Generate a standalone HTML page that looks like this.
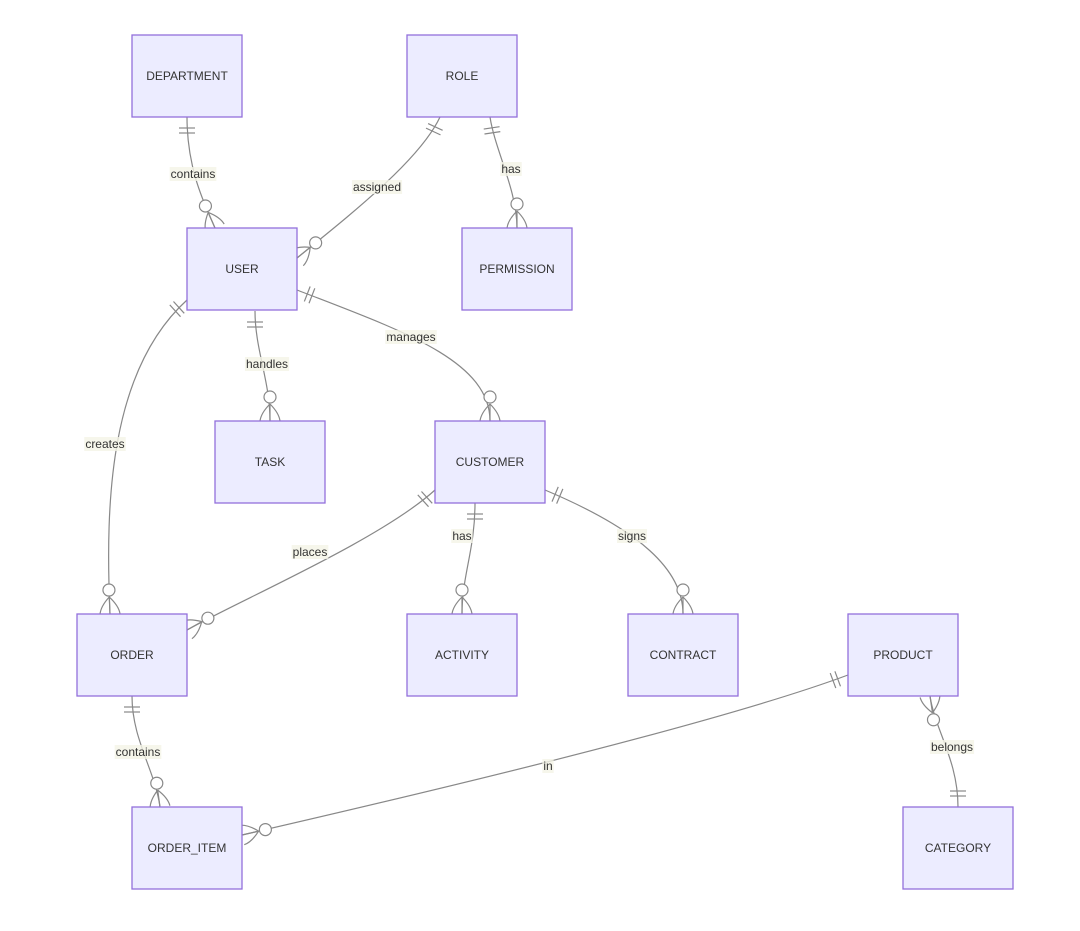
<!DOCTYPE html>
<html><head><meta charset="utf-8"><style>
html,body{margin:0;padding:0;background:#fff;}
svg{display:block;font-family:"Liberation Sans","DejaVu Sans",sans-serif;}
.e{fill:#ECECFF;stroke:#9370DB;stroke-width:1.3;}
.t{font-size:12px;fill:#333;text-anchor:middle;dominant-baseline:central;}
.l{font-size:12px;fill:#333;text-anchor:middle;dominant-baseline:central;}
.ln{fill:none;stroke:#888;stroke-width:1.2;}
</style></head><body>
<svg id="s" width="1080" height="931" viewBox="0 0 1080 931" xmlns="http://www.w3.org/2000/svg">
<g id="edges"></g>
<g id="lbg"></g>
<g>
<text class="l" x="193" y="174">contains</text>
<text class="l" x="377" y="187">assigned</text>
<text class="l" x="511" y="169">has</text>
<text class="l" x="267" y="364">handles</text>
<text class="l" x="411" y="337">manages</text>
<text class="l" x="105" y="444">creates</text>
<text class="l" x="310" y="552">places</text>
<text class="l" x="462" y="536">has</text>
<text class="l" x="632" y="536">signs</text>
<text class="l" x="138" y="752">contains</text>
<text class="l" x="548" y="766">in</text>
<text class="l" x="952" y="747">belongs</text>
</g>
<g>
<rect class="e" x="132" y="35" width="110" height="82"/><text class="t" x="187" y="76">DEPARTMENT</text>
<rect class="e" x="407" y="35" width="110" height="82"/><text class="t" x="462" y="76">ROLE</text>
<rect class="e" x="187" y="228" width="110" height="82"/><text class="t" x="242" y="269">USER</text>
<rect class="e" x="462" y="228" width="110" height="82"/><text class="t" x="517" y="269">PERMISSION</text>
<rect class="e" x="215" y="421" width="110" height="82"/><text class="t" x="270" y="462">TASK</text>
<rect class="e" x="435" y="421" width="110" height="82"/><text class="t" x="490" y="462">CUSTOMER</text>
<rect class="e" x="77" y="614" width="110" height="82"/><text class="t" x="132" y="655">ORDER</text>
<rect class="e" x="407" y="614" width="110" height="82"/><text class="t" x="462" y="655">ACTIVITY</text>
<rect class="e" x="628" y="614" width="110" height="82"/><text class="t" x="683" y="655">CONTRACT</text>
<rect class="e" x="848" y="614" width="110" height="82"/><text class="t" x="903" y="655">PRODUCT</text>
<rect class="e" x="132" y="807" width="110" height="82"/><text class="t" x="187" y="848">ORDER_ITEM</text>
<rect class="e" x="903" y="807" width="110" height="82"/><text class="t" x="958" y="848">CATEGORY</text>
</g>
</svg>
<script>
var E=[
[[187,117],[187,170],[205,205],[215,228]],
[[440,117],[420,160],[350,215],[297,258]],
[[490,117],[495,150],[517,190],[517,228]],
[[255,311],[255,350],[270,380],[270,421]],
[[297,290],[400,330],[490,360],[490,421]],
[[187,300],[110,370],[105,500],[110,614]],
[[435,490],[380,540],[240,600],[187,630]],
[[475,503],[475,550],[462,575],[462,614]],
[[545,490],[640,530],[683,570],[683,614]],
[[132,696],[132,740],[155,770],[160,807]],
[[848,675],[700,730],[350,810],[242,835]],
[[958,807],[958,760],[935,730],[930,696]]];
var g=document.getElementById('edges'),h='';
function u(a,b){var dx=b[0]-a[0],dy=b[1]-a[1],l=Math.hypot(dx,dy);return [dx/l,dy/l];}
E.forEach(function(e){
 var p0=e[0],c1=e[1],c2=e[2],p3=e[3];
 h+='<path class="ln" d="M'+p0+' C'+c1+' '+c2+' '+p3+'"/>';
 // one end at p0
 var d=u(p0,c1),n=[-d[1],d[0]];
 [11,16].forEach(function(k){var cx=p0[0]+d[0]*k,cy=p0[1]+d[1]*k;
  h+='<line class="ln" x1="'+(cx+n[0]*8)+'" y1="'+(cy+n[1]*8)+'" x2="'+(cx-n[0]*8)+'" y2="'+(cy-n[1]*8)+'"/>';});
 // many end at p3
 var d2=u(p3,c2),n2=[-d2[1],d2[0]];
 var cx=p3[0]+d2[0]*24,cy=p3[1]+d2[1]*24;
 h+='<circle cx="'+cx+'" cy="'+cy+'" r="6" fill="#fff" stroke="#888" stroke-width="1.2"/>';
 var fx=p3[0]+d2[0]*17,fy=p3[1]+d2[1]*17;
 [1,-1].forEach(function(s){
  var ex=p3[0]+n2[0]*10*s,ey=p3[1]+n2[1]*10*s;
  var qx=p3[0]+d2[0]*8+n2[0]*9*s,qy=p3[1]+d2[1]*8+n2[1]*9*s;
  h+='<path class="ln" d="M'+fx+','+fy+' Q'+qx+','+qy+' '+ex+','+ey+'"/>';});
 h+='<line class="ln" x1="'+fx+'" y1="'+fy+'" x2="'+p3[0]+'" y2="'+p3[1]+'"/>';
});
g.innerHTML=h;
var lb=document.getElementById('lbg'),bh='';
document.querySelectorAll('.l').forEach(function(t){var b=t.getBBox();
 bh+='<rect x="'+(b.x-1)+'" y="'+(b.y)+'" width="'+(b.width+2)+'" height="'+b.height+'" fill="#f4f4e6" opacity="0.8"/>';});
lb.innerHTML=bh;
</script>
</body></html>
